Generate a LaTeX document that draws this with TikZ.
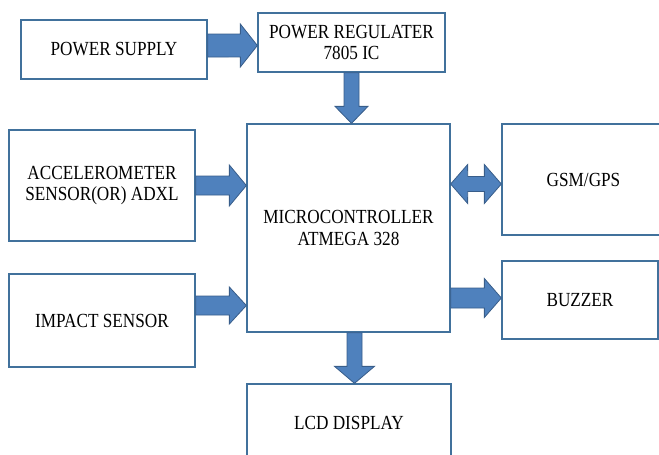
\documentclass[tikz,border=0pt]{standalone}
\usepackage{fontspec}
\setmainfont{Liberation Serif}[FakeStretch=0.86]
\usetikzlibrary{calc}

\definecolor{boxline}{HTML}{41719C}
\definecolor{arrowfill}{HTML}{4F81BD}
\definecolor{arrowline}{HTML}{385D8A}

\tikzset{
  box/.style={draw=boxline, line width=1.3pt, fill=white, align=center, inner sep=0pt,
    font=\fontsize{20}{21.5}\selectfont},
  % block arrow: #1 = half width of shaft, #2 = half width of head
  barrow/.style 2 args={draw=arrowline, line width=0.8pt, fill=arrowfill, to path={
      ($(\tikztostart)!#1pt!90:(\tikztotarget)$)
      -- ($(\tikztotarget)!{veclen(17,#1)*1pt}!{-atan(#1/17)}:(\tikztostart)$)
      -- ($(\tikztotarget)!{veclen(17,#2)*1pt}!{-atan(#2/17)}:(\tikztostart)$)
      -- (\tikztotarget)
      -- ($(\tikztotarget)!{veclen(17,#2)*1pt}!{atan(#2/17)}:(\tikztostart)$)
      -- ($(\tikztotarget)!{veclen(17,#1)*1pt}!{atan(#1/17)}:(\tikztostart)$)
      -- ($(\tikztostart)!#1pt!-90:(\tikztotarget)$) -- cycle}},
  % block arrow with a head at both ends
  dbarrow/.style 2 args={draw=arrowline, line width=0.8pt, fill=arrowfill, to path={
      (\tikztostart)
      -- ($(\tikztostart)!{veclen(17,#2)*1pt}!{atan(#2/17)}:(\tikztotarget)$)
      -- ($(\tikztostart)!{veclen(17,#1)*1pt}!{atan(#1/17)}:(\tikztotarget)$)
      -- ($(\tikztotarget)!{veclen(17,#1)*1pt}!{-atan(#1/17)}:(\tikztostart)$)
      -- ($(\tikztotarget)!{veclen(17,#2)*1pt}!{-atan(#2/17)}:(\tikztostart)$)
      -- (\tikztotarget)
      -- ($(\tikztotarget)!{veclen(17,#2)*1pt}!{atan(#2/17)}:(\tikztostart)$)
      -- ($(\tikztotarget)!{veclen(17,#1)*1pt}!{atan(#1/17)}:(\tikztostart)$)
      -- ($(\tikztostart)!{veclen(17,#1)*1pt}!{-atan(#1/17)}:(\tikztotarget)$)
      -- ($(\tikztostart)!{veclen(17,#2)*1pt}!{-atan(#2/17)}:(\tikztotarget)$)
      -- cycle}},
}

\begin{document}
\begin{tikzpicture}[x=1pt, y=-1pt]
    \useasboundingbox (0,0) rectangle (659,455);
    \clip (0,0) rectangle (659,455);

    % Blocks
    \foreach \name/\x/\y/\w/\h/\txt in {
        ps/114/49.5/186/59/{POWER SUPPLY},
        reg/351.5/42.5/187/59/{POWER REGULATER\\7805 IC},
        mcu/348.5/228/203/208/{MICROCONTROLLER\\ATMEGA 328},
        acc/102/185.5/186/111/{ACCELEROMETER\\SENSOR(OR) ADXL},
        imp/102/320.5/186/93/{IMPACT SENSOR},
        gsm/583.5/179.5/163/111/{GSM/GPS},
        buz/580/300/156/78/{BUZZER},
        lcd/349/422.5/204/77/{LCD DISPLAY}} {
      \node[box, minimum width=\w pt, minimum height=\h pt] (\name) at (\x,\y) {\txt};
    }

    % Arrow end points
    \coordinate (ps-out) at ([yshift=4pt]ps.east);
    \coordinate (imp-out) at ([yshift=15pt]imp.east);
    \coordinate (gsm-in) at ([yshift=-4.5pt]gsm.west);
    \coordinate (buz-in) at ([yshift=2pt]buz.west);
    \coordinate (mcu-out) at ([xshift=6pt]mcu.south);

    % Arrows
    \draw[barrow={11.5}{21.5}] (ps-out) to (ps-out -| reg.west);
    \draw[barrow={7.5}{16.5}] (reg.south) to (reg.south |- mcu.north);
    \draw[barrow={9.5}{20.5}] (acc.east) to (acc.east -| mcu.west);
    \draw[barrow={9.5}{18.5}] (imp-out) to (imp-out -| mcu.west);
    \draw[dbarrow={7.5}{19.5}] (gsm-in -| mcu.east) to (gsm-in);
    \draw[barrow={10}{19.5}] (buz-in -| mcu.east) to (buz-in);
    \draw[barrow={7.5}{20}] (mcu-out) to (mcu-out |- lcd.north);
\end{tikzpicture}
\end{document}
